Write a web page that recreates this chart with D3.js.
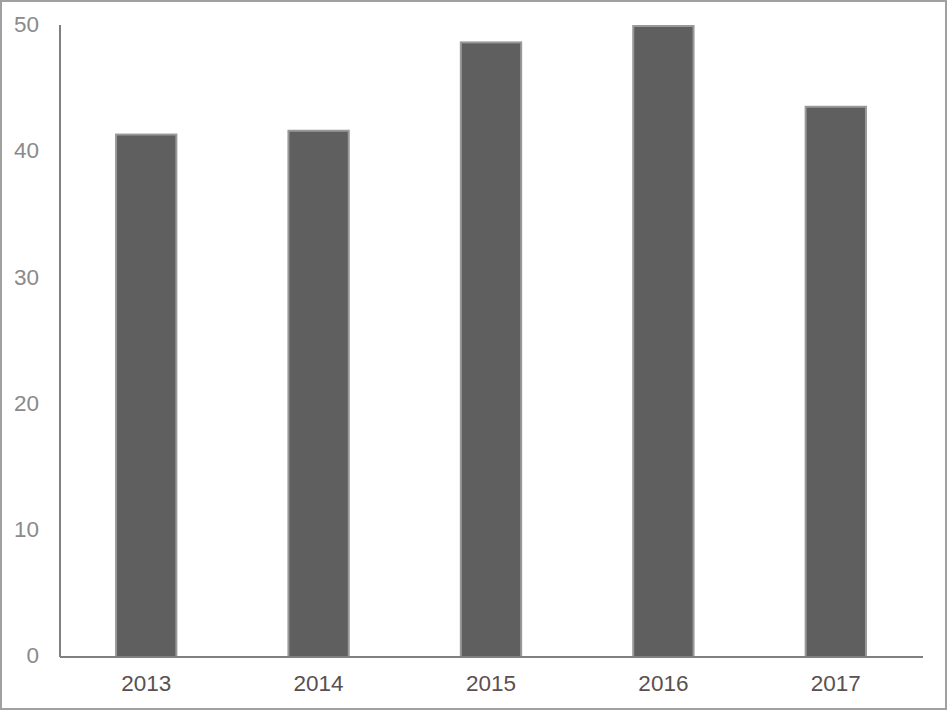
<!DOCTYPE html>
<html><head><meta charset="utf-8">
<script src="https://cdn.jsdelivr.net/npm/d3@7"></script>
<style>html,body{margin:0;padding:0;background:#fff;}svg{display:block;}</style>
</head><body>
<script>
const categories = ["2013","2014","2015","2016","2017"];
const values = [41.4, 41.7, 48.7, 50, 43.6];
const yTicks = [0,10,20,30,40,50];

(function(){
const W = 947, H = 711;
const svg = d3.select("body").append("svg").attr("width", W).attr("height", H);
svg.append("rect").attr("x",1).attr("y",1).attr("width",W-2).attr("height",H-3)
  .attr("fill","#fff").attr("stroke","#a0a0a0").attr("stroke-width",2);

const mLeft = 60, mRight = 922, mTop = 26, mBottom = 657;
const x = d3.scaleBand().domain(categories).range([mLeft, mRight]).paddingInner(0.65).paddingOuter(0.325);
const y = d3.scaleLinear().domain([0, 50]).range([mBottom, mTop]);

svg.append("g").selectAll("rect").data(values).join("rect")
  .attr("x", (d,i) => x(categories[i]))
  .attr("y", d => y(d))
  .attr("width", x.bandwidth())
  .attr("height", d => y(0) - y(d))
  .attr("fill", "#5f5f5f").attr("stroke", "#999").attr("stroke-width", 2);

const font = "Liberation Sans, Arial, sans-serif";
const yAxis = svg.append("g").attr("transform", `translate(${mLeft},0)`)
  .call(d3.axisLeft(y).tickValues(yTicks).tickSize(0).tickPadding(21));
yAxis.select(".domain").attr("stroke","#808080").attr("stroke-width",2).attr("d", `M0,${mTop-1}V${mBottom}`);
yAxis.selectAll("text").attr("fill","#8a8a8a").attr("dy","0.25em").style("font-family",font).style("font-size","22.5px");

const xAxis = svg.append("g").attr("transform", `translate(0,${mBottom})`)
  .call(d3.axisBottom(x).tickSize(0).tickPadding(18));
xAxis.select(".domain").attr("stroke","#808080").attr("stroke-width",2).attr("d", `M${mLeft},0H${mRight+1}`);
xAxis.selectAll("text").attr("fill","#5a5050").style("font-family",font).style("font-size","22.5px");
})();
</script>
</body></html>
